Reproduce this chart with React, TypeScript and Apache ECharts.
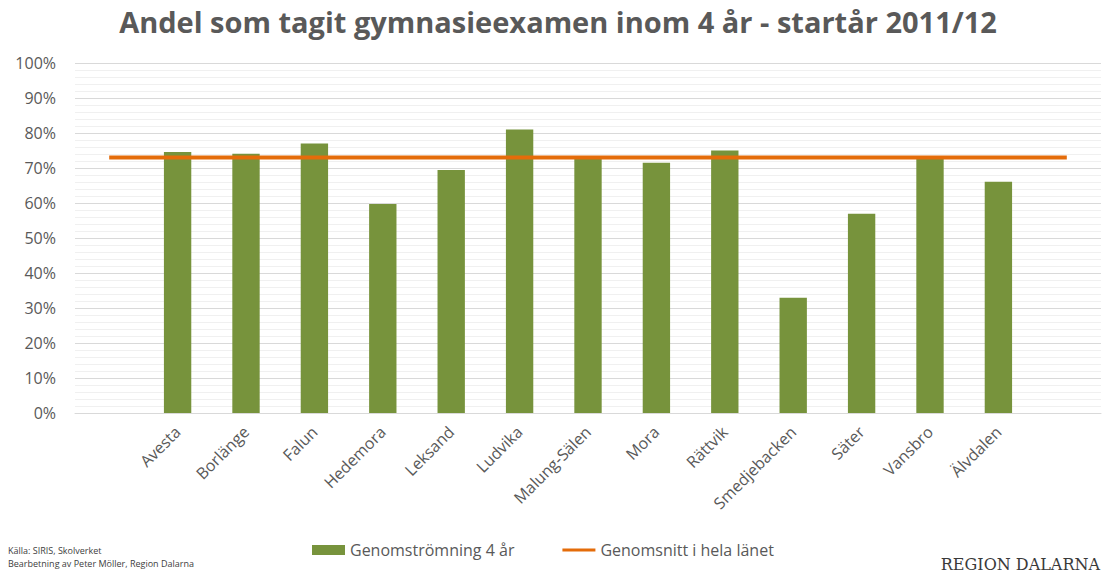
import React, { useEffect, useRef } from "react";
import * as echarts from "echarts";

const categories = ["", "Avesta", "Borlänge", "Falun", "Hedemora", "Leksand", "Ludvika", "Malung-Sälen", "Mora", "Rättvik", "Smedjebacken", "Säter", "Vansbro", "Älvdalen", ""];
const genomstromning = [null, 74.6, 74.1, 77.0, 59.7, 69.4, 81.0, 73.2, 71.5, 75.0, 32.9, 56.9, 73.1, 66.1, null];
const genomsnittLan = [73, 73, 73, 73, 73, 73, 73, 73, 73, 73, 73, 73, 73, 73, 73];
const yTicks = { min: 0, max: 100, interval: 10 };

const TITLE = "Andel som tagit gymnasieexamen inom 4 år - startår 2011/12";
const SOURCE1 = "Källa: SIRIS, Skolverket";
const SOURCE2 = "Bearbetning av Peter Möller, Region Dalarna";

export default function App() {
  const ref = useRef<HTMLDivElement>(null);
  useEffect(() => {
    if (!ref.current) return;
    const chart = echarts.init(ref.current, null, { renderer: "svg" });
    const font = "Open Sans";
    chart.setOption({
      animation: false,
      backgroundColor: "#ffffff",
      textStyle: { fontFamily: font },
      title: {
        text: TITLE,
        left: "center",
        top: 2,
        textStyle: { fontFamily: font, fontSize: 29, fontWeight: "bold", color: "#595959" },
      },
      grid: { left: 75, right: 15, top: 63, bottom: 160, containLabel: false },
      legend: {
        bottom: 10,
        left: 307,
        itemGap: 48,
        textStyle: { fontFamily: font, fontSize: 16, color: "#595959" },
        data: [
          { name: "Genomströmning 4 år", icon: "rect", itemStyle: { color: "#77933c" } },
          { name: "Genomsnitt i hela länet", icon: "path://M0 0h33v3H0z", itemStyle: { color: "#e46c0a" } },
        ],
        itemWidth: 33,
        itemHeight: 10,
      },
      xAxis: {
        type: "category",
        data: categories,
        axisLine: { lineStyle: { color: "#d9d9d9", width: 1 } },
        axisTick: { show: false },
        axisLabel: { interval: 0, rotate: 45, margin: 16, fontSize: 16, color: "#595959", fontFamily: font },
      },
      yAxis: {
        type: "value",
        min: yTicks.min,
        max: yTicks.max,
        interval: yTicks.interval,
        axisLine: { show: false },
        axisTick: { show: false },
        axisLabel: { formatter: "{value}%", fontSize: 16, color: "#595959", margin: 19, fontFamily: font },
        splitLine: { lineStyle: { color: "#d9d9d9", width: 1 } },
        minorTick: { show: false, splitNumber: 5 },
        minorSplitLine: { show: true, lineStyle: { color: "#f0f0f0", width: 1 } },
      },
      series: [
        {
          name: "Genomströmning 4 år",
          type: "bar",
          data: genomstromning,
          barWidth: "40%",
          itemStyle: { color: "#77933c" },
        },
        {
          name: "Genomsnitt i hela länet",
          type: "line",
          data: genomsnittLan,
          symbol: "none",
          lineStyle: { color: "#e46c0a", width: 4 },
          itemStyle: { color: "#e46c0a" },
        },
      ],
      graphic: [
        { type: "text", left: 8, top: 546, style: { text: SOURCE1, fontSize: 9, fill: "#404040", fontFamily: font } },
        { type: "text", left: 8, top: 559, style: { text: SOURCE2, fontSize: 9, fill: "#404040", fontFamily: font } },
        {
          type: "text",
          right: 16,
          top: 556,
          style: { text: "REGION DALARNA", fontSize: 16, fill: "#3a3a3a", fontFamily: "DejaVu Serif", letterSpacing: 1.2 } as any,
        },
      ],
    });
    return () => chart.dispose();
  }, []);
  return <div ref={ref} style={{ position: "absolute", left: 0, top: 0, width: 1116, height: 573 }} />;
}
